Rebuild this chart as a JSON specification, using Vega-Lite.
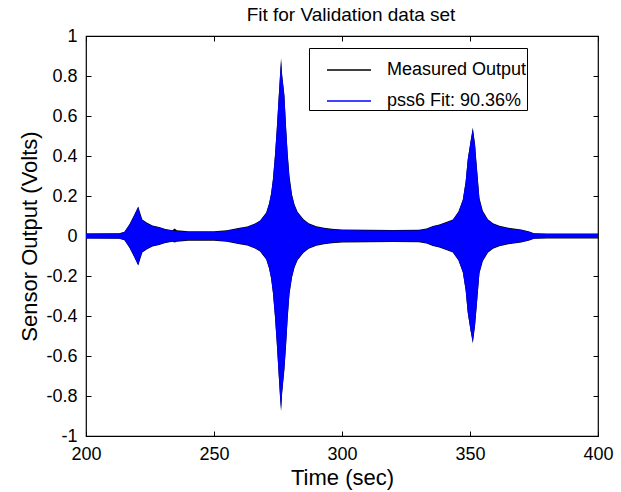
{
  "$schema": "https://vega.github.io/schema/vega-lite/v6.json",
  "width": 512,
  "height": 400,
  "autosize": {"type": "none"},
  "padding": {"left": 86, "top": 36, "right": 23, "bottom": 56},
  "background": "white",
  "title": {"text": "Fit for Validation data set", "fontSize": 19, "fontWeight": "normal", "font": "Liberation Sans", "color": "black", "offset": 2, "dx": 9},
  "datasets": {
    "env": [
      {"s": "Measured Output", "t": 200, "hi": 0.013, "lo": -0.013},
      {"s": "Measured Output", "t": 213, "hi": 0.014, "lo": -0.014},
      {"s": "Measured Output", "t": 215, "hi": 0.021, "lo": -0.021},
      {"s": "Measured Output", "t": 216.9, "hi": 0.057, "lo": -0.057},
      {"s": "Measured Output", "t": 218.9, "hi": 0.107, "lo": -0.107},
      {"s": "Measured Output", "t": 220.4, "hi": 0.148, "lo": -0.148},
      {"s": "Measured Output", "t": 222, "hi": 0.083, "lo": -0.083},
      {"s": "Measured Output", "t": 223.9, "hi": 0.066, "lo": -0.066},
      {"s": "Measured Output", "t": 226, "hi": 0.053, "lo": -0.053},
      {"s": "Measured Output", "t": 228.6, "hi": 0.045, "lo": -0.045},
      {"s": "Measured Output", "t": 231, "hi": 0.035, "lo": -0.035},
      {"s": "Measured Output", "t": 233.8, "hi": 0.029, "lo": -0.029},
      {"s": "Measured Output", "t": 234.6, "hi": 0.037, "lo": -0.032},
      {"s": "Measured Output", "t": 235.5, "hi": 0.029, "lo": -0.029},
      {"s": "Measured Output", "t": 240, "hi": 0.024, "lo": -0.024},
      {"s": "Measured Output", "t": 250, "hi": 0.024, "lo": -0.024},
      {"s": "Measured Output", "t": 255, "hi": 0.029, "lo": -0.029},
      {"s": "Measured Output", "t": 260, "hi": 0.041, "lo": -0.041},
      {"s": "Measured Output", "t": 263, "hi": 0.048, "lo": -0.048},
      {"s": "Measured Output", "t": 266, "hi": 0.063, "lo": -0.063},
      {"s": "Measured Output", "t": 268, "hi": 0.078, "lo": -0.078},
      {"s": "Measured Output", "t": 270.4, "hi": 0.118, "lo": -0.118},
      {"s": "Measured Output", "t": 271.5, "hi": 0.163, "lo": -0.163},
      {"s": "Measured Output", "t": 272.3, "hi": 0.213, "lo": -0.213},
      {"s": "Measured Output", "t": 273, "hi": 0.283, "lo": -0.283},
      {"s": "Measured Output", "t": 273.8, "hi": 0.403, "lo": -0.403},
      {"s": "Measured Output", "t": 274.5, "hi": 0.533, "lo": -0.533},
      {"s": "Measured Output", "t": 275.3, "hi": 0.703, "lo": -0.703},
      {"s": "Measured Output", "t": 275.8, "hi": 0.81, "lo": -0.81},
      {"s": "Measured Output", "t": 276.2, "hi": 0.89, "lo": -0.878},
      {"s": "Measured Output", "t": 276.6, "hi": 0.81, "lo": -0.79},
      {"s": "Measured Output", "t": 277.5, "hi": 0.705, "lo": -0.67},
      {"s": "Measured Output", "t": 278.2, "hi": 0.536, "lo": -0.54},
      {"s": "Measured Output", "t": 278.8, "hi": 0.41, "lo": -0.41},
      {"s": "Measured Output", "t": 279.5, "hi": 0.3, "lo": -0.29},
      {"s": "Measured Output", "t": 280.5, "hi": 0.206, "lo": -0.206},
      {"s": "Measured Output", "t": 281.5, "hi": 0.156, "lo": -0.156},
      {"s": "Measured Output", "t": 282.7, "hi": 0.12, "lo": -0.12},
      {"s": "Measured Output", "t": 285, "hi": 0.084, "lo": -0.084},
      {"s": "Measured Output", "t": 287, "hi": 0.064, "lo": -0.064},
      {"s": "Measured Output", "t": 290, "hi": 0.049, "lo": -0.049},
      {"s": "Measured Output", "t": 293, "hi": 0.041, "lo": -0.041},
      {"s": "Measured Output", "t": 296, "hi": 0.036, "lo": -0.036},
      {"s": "Measured Output", "t": 300, "hi": 0.033, "lo": -0.033},
      {"s": "Measured Output", "t": 310, "hi": 0.031, "lo": -0.031},
      {"s": "Measured Output", "t": 320, "hi": 0.03, "lo": -0.03},
      {"s": "Measured Output", "t": 330, "hi": 0.031, "lo": -0.031},
      {"s": "Measured Output", "t": 333, "hi": 0.038, "lo": -0.038},
      {"s": "Measured Output", "t": 335.5, "hi": 0.05, "lo": -0.05},
      {"s": "Measured Output", "t": 338, "hi": 0.058, "lo": -0.058},
      {"s": "Measured Output", "t": 341, "hi": 0.071, "lo": -0.071},
      {"s": "Measured Output", "t": 343.3, "hi": 0.083, "lo": -0.083},
      {"s": "Measured Output", "t": 345.5, "hi": 0.123, "lo": -0.123},
      {"s": "Measured Output", "t": 347.2, "hi": 0.183, "lo": -0.183},
      {"s": "Measured Output", "t": 348.3, "hi": 0.273, "lo": -0.273},
      {"s": "Measured Output", "t": 349.1, "hi": 0.383, "lo": -0.383},
      {"s": "Measured Output", "t": 350.2, "hi": 0.473, "lo": -0.473},
      {"s": "Measured Output", "t": 351.1, "hi": 0.543, "lo": -0.537},
      {"s": "Measured Output", "t": 352, "hi": 0.456, "lo": -0.446},
      {"s": "Measured Output", "t": 352.4, "hi": 0.39, "lo": -0.386},
      {"s": "Measured Output", "t": 353.7, "hi": 0.19, "lo": -0.186},
      {"s": "Measured Output", "t": 355, "hi": 0.126, "lo": -0.126},
      {"s": "Measured Output", "t": 357, "hi": 0.084, "lo": -0.084},
      {"s": "Measured Output", "t": 359, "hi": 0.064, "lo": -0.064},
      {"s": "Measured Output", "t": 361.5, "hi": 0.051, "lo": -0.051},
      {"s": "Measured Output", "t": 365, "hi": 0.041, "lo": -0.041},
      {"s": "Measured Output", "t": 370, "hi": 0.033, "lo": -0.033},
      {"s": "Measured Output", "t": 373.2, "hi": 0.023, "lo": -0.023},
      {"s": "Measured Output", "t": 375, "hi": 0.014, "lo": -0.014},
      {"s": "Measured Output", "t": 380, "hi": 0.013, "lo": -0.013},
      {"s": "Measured Output", "t": 400, "hi": 0.013, "lo": -0.013},
      {"s": "pss6 Fit: 90.36%", "t": 200, "hi": 0.012, "lo": -0.012},
      {"s": "pss6 Fit: 90.36%", "t": 213, "hi": 0.013, "lo": -0.013},
      {"s": "pss6 Fit: 90.36%", "t": 215, "hi": 0.02, "lo": -0.02},
      {"s": "pss6 Fit: 90.36%", "t": 216.9, "hi": 0.055, "lo": -0.055},
      {"s": "pss6 Fit: 90.36%", "t": 218, "hi": 0.08, "lo": -0.08},
      {"s": "pss6 Fit: 90.36%", "t": 218.9, "hi": 0.105, "lo": -0.105},
      {"s": "pss6 Fit: 90.36%", "t": 220, "hi": 0.135, "lo": -0.135},
      {"s": "pss6 Fit: 90.36%", "t": 220.4, "hi": 0.145, "lo": -0.145},
      {"s": "pss6 Fit: 90.36%", "t": 221, "hi": 0.11, "lo": -0.115},
      {"s": "pss6 Fit: 90.36%", "t": 222, "hi": 0.08, "lo": -0.08},
      {"s": "pss6 Fit: 90.36%", "t": 223.9, "hi": 0.063, "lo": -0.063},
      {"s": "pss6 Fit: 90.36%", "t": 226, "hi": 0.05, "lo": -0.05},
      {"s": "pss6 Fit: 90.36%", "t": 228.6, "hi": 0.042, "lo": -0.042},
      {"s": "pss6 Fit: 90.36%", "t": 231, "hi": 0.032, "lo": -0.032},
      {"s": "pss6 Fit: 90.36%", "t": 235, "hi": 0.025, "lo": -0.025},
      {"s": "pss6 Fit: 90.36%", "t": 240, "hi": 0.02, "lo": -0.02},
      {"s": "pss6 Fit: 90.36%", "t": 250, "hi": 0.02, "lo": -0.02},
      {"s": "pss6 Fit: 90.36%", "t": 255, "hi": 0.026, "lo": -0.026},
      {"s": "pss6 Fit: 90.36%", "t": 260, "hi": 0.038, "lo": -0.038},
      {"s": "pss6 Fit: 90.36%", "t": 263, "hi": 0.045, "lo": -0.045},
      {"s": "pss6 Fit: 90.36%", "t": 266, "hi": 0.06, "lo": -0.06},
      {"s": "pss6 Fit: 90.36%", "t": 268, "hi": 0.075, "lo": -0.075},
      {"s": "pss6 Fit: 90.36%", "t": 270.4, "hi": 0.115, "lo": -0.115},
      {"s": "pss6 Fit: 90.36%", "t": 271.5, "hi": 0.16, "lo": -0.16},
      {"s": "pss6 Fit: 90.36%", "t": 272.3, "hi": 0.21, "lo": -0.21},
      {"s": "pss6 Fit: 90.36%", "t": 273, "hi": 0.28, "lo": -0.28},
      {"s": "pss6 Fit: 90.36%", "t": 273.8, "hi": 0.4, "lo": -0.4},
      {"s": "pss6 Fit: 90.36%", "t": 274.5, "hi": 0.53, "lo": -0.53},
      {"s": "pss6 Fit: 90.36%", "t": 275.3, "hi": 0.7, "lo": -0.7},
      {"s": "pss6 Fit: 90.36%", "t": 275.8, "hi": 0.8, "lo": -0.8},
      {"s": "pss6 Fit: 90.36%", "t": 276.2, "hi": 0.875, "lo": -0.865},
      {"s": "pss6 Fit: 90.36%", "t": 276.6, "hi": 0.8, "lo": -0.78},
      {"s": "pss6 Fit: 90.36%", "t": 277.5, "hi": 0.7, "lo": -0.66},
      {"s": "pss6 Fit: 90.36%", "t": 278.2, "hi": 0.53, "lo": -0.53},
      {"s": "pss6 Fit: 90.36%", "t": 278.8, "hi": 0.4, "lo": -0.4},
      {"s": "pss6 Fit: 90.36%", "t": 279.5, "hi": 0.28, "lo": -0.28},
      {"s": "pss6 Fit: 90.36%", "t": 280.5, "hi": 0.2, "lo": -0.2},
      {"s": "pss6 Fit: 90.36%", "t": 281.5, "hi": 0.15, "lo": -0.15},
      {"s": "pss6 Fit: 90.36%", "t": 282.7, "hi": 0.115, "lo": -0.115},
      {"s": "pss6 Fit: 90.36%", "t": 285, "hi": 0.08, "lo": -0.08},
      {"s": "pss6 Fit: 90.36%", "t": 287, "hi": 0.06, "lo": -0.06},
      {"s": "pss6 Fit: 90.36%", "t": 290, "hi": 0.045, "lo": -0.045},
      {"s": "pss6 Fit: 90.36%", "t": 293, "hi": 0.038, "lo": -0.038},
      {"s": "pss6 Fit: 90.36%", "t": 296, "hi": 0.033, "lo": -0.033},
      {"s": "pss6 Fit: 90.36%", "t": 300, "hi": 0.03, "lo": -0.03},
      {"s": "pss6 Fit: 90.36%", "t": 310, "hi": 0.028, "lo": -0.028},
      {"s": "pss6 Fit: 90.36%", "t": 320, "hi": 0.027, "lo": -0.027},
      {"s": "pss6 Fit: 90.36%", "t": 330, "hi": 0.028, "lo": -0.028},
      {"s": "pss6 Fit: 90.36%", "t": 333, "hi": 0.035, "lo": -0.035},
      {"s": "pss6 Fit: 90.36%", "t": 335.5, "hi": 0.047, "lo": -0.047},
      {"s": "pss6 Fit: 90.36%", "t": 338, "hi": 0.055, "lo": -0.055},
      {"s": "pss6 Fit: 90.36%", "t": 341, "hi": 0.068, "lo": -0.068},
      {"s": "pss6 Fit: 90.36%", "t": 343.3, "hi": 0.08, "lo": -0.08},
      {"s": "pss6 Fit: 90.36%", "t": 345.5, "hi": 0.12, "lo": -0.12},
      {"s": "pss6 Fit: 90.36%", "t": 347.2, "hi": 0.18, "lo": -0.18},
      {"s": "pss6 Fit: 90.36%", "t": 348.3, "hi": 0.27, "lo": -0.27},
      {"s": "pss6 Fit: 90.36%", "t": 349.1, "hi": 0.38, "lo": -0.38},
      {"s": "pss6 Fit: 90.36%", "t": 350.2, "hi": 0.47, "lo": -0.47},
      {"s": "pss6 Fit: 90.36%", "t": 351.1, "hi": 0.535, "lo": -0.53},
      {"s": "pss6 Fit: 90.36%", "t": 352, "hi": 0.45, "lo": -0.44},
      {"s": "pss6 Fit: 90.36%", "t": 352.4, "hi": 0.38, "lo": -0.38},
      {"s": "pss6 Fit: 90.36%", "t": 353.7, "hi": 0.18, "lo": -0.18},
      {"s": "pss6 Fit: 90.36%", "t": 355, "hi": 0.12, "lo": -0.12},
      {"s": "pss6 Fit: 90.36%", "t": 357, "hi": 0.08, "lo": -0.08},
      {"s": "pss6 Fit: 90.36%", "t": 359, "hi": 0.06, "lo": -0.06},
      {"s": "pss6 Fit: 90.36%", "t": 361.5, "hi": 0.047, "lo": -0.047},
      {"s": "pss6 Fit: 90.36%", "t": 365, "hi": 0.037, "lo": -0.037},
      {"s": "pss6 Fit: 90.36%", "t": 370, "hi": 0.03, "lo": -0.03},
      {"s": "pss6 Fit: 90.36%", "t": 373.2, "hi": 0.02, "lo": -0.02},
      {"s": "pss6 Fit: 90.36%", "t": 375, "hi": 0.012, "lo": -0.012},
      {"s": "pss6 Fit: 90.36%", "t": 380, "hi": 0.01, "lo": -0.01},
      {"s": "pss6 Fit: 90.36%", "t": 400, "hi": 0.01, "lo": -0.01}
    ]
  },
  "data": {"name": "env"},
  "layer": [
    {
      "transform": [{"filter": "datum.s === 'Measured Output'"}],
      "mark": {"type": "area", "interpolate": "linear"},
      "encoding": {
        "x": {"field": "t", "type": "quantitative", "scale": {"domain": [200, 400], "nice": false, "zero": false},
          "axis": {"orient": "bottom", "values": [200, 250, 300, 350, 400], "title": "Time (sec)", "labelFlush": false}},
        "y": {"field": "hi", "type": "quantitative", "stack": null, "scale": {"domain": [-1, 1], "nice": false, "zero": false},
          "axis": {"orient": "left", "values": [-1, -0.8, -0.6, -0.4, -0.2, 0, 0.2, 0.4, 0.6, 0.8, 1], "title": "Sensor Output (Volts)", "labelExpr": "'' + datum.value", "labelFlush": false}},
        "y2": {"field": "lo"},
        "fill": {"field": "s", "type": "nominal", "scale": {"domain": ["Measured Output", "pss6 Fit: 90.36%"], "range": ["#000000", "#0000ff"]},
          "legend": {"orient": "none", "legendX": 223, "legendY": 12, "title": null, "symbolType": "M-1,-0.03H1V0.03H-1Z", "symbolSize": 1936, "symbolStrokeWidth": 0, "symbolOffset": 18, "labelOffset": 16, "labelFontSize": 18, "labelFont": "Liberation Sans", "labelColor": "black", "rowPadding": -5, "padding": 0, "strokeColor": "black", "fillColor": "white", "labelLimit": 400}}
      }
    },
    {
      "transform": [{"filter": "datum.s !== 'Measured Output'"}],
      "mark": {"type": "area", "interpolate": "linear"},
      "encoding": {
        "x": {"field": "t", "type": "quantitative", "axis": null},
        "y": {"field": "hi", "type": "quantitative", "stack": null, "axis": null},
        "y2": {"field": "lo"},
        "fill": {"field": "s", "type": "nominal"}
      }
    },
    {
      "mark": {"type": "point", "opacity": 0},
      "encoding": {
        "x": {"field": "t", "type": "quantitative", "axis": {"orient": "top", "values": [200, 250, 300, 350, 400], "labels": false, "title": null}},
        "y": {"field": "hi", "type": "quantitative", "axis": {"orient": "right", "values": [-1, -0.8, -0.6, -0.4, -0.2, 0, 0.2, 0.4, 0.6, 0.8, 1], "labels": false, "title": null}}
      }
    }
  ],
  "resolve": {"axis": {"x": "independent", "y": "independent"}},
  "config": {
    "font": "Liberation Sans",
    "view": {"stroke": "black", "strokeWidth": 1.2},
    "axis": {
      "domain": false,
      "grid": false,
      "ticks": true,
      "tickSize": -5,
      "tickColor": "black",
      "tickWidth": 1,
      "labelFont": "Liberation Sans",
      "labelFontSize": 18,
      "labelColor": "black",
      "labelPadding": 14,
      "titleFont": "Liberation Sans",
      "titleFontSize": 22,
      "titleFontWeight": "normal",
      "titleColor": "black",
      "titlePadding": 4
    }
  }
}
